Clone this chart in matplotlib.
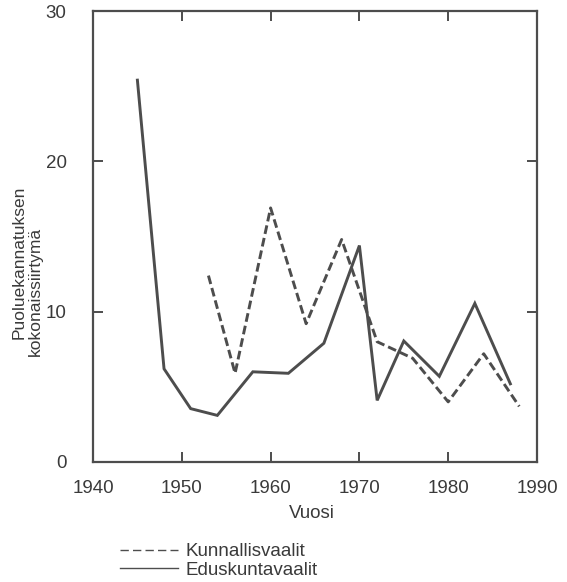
import matplotlib
matplotlib.use("Agg")
import matplotlib.pyplot as plt
from matplotlib.lines import Line2D

# Eduskuntavaalit (parliamentary elections)
edus_vuodet = [1945, 1948, 1951, 1954, 1958, 1962, 1966, 1970, 1972, 1975, 1979, 1983, 1987]
edus_arvot = [25.4, 6.2, 3.55, 3.1, 6.0, 5.9, 7.9, 14.4, 4.1, 8.05, 5.7, 10.55, 5.2]
# Kunnallisvaalit (municipal elections)
kunn_vuodet = [1953, 1956, 1960, 1964, 1968, 1972, 1976, 1980, 1984, 1988]
kunn_arvot = [12.4, 5.9, 16.9, 9.2, 14.8, 8.0, 6.9, 4.0, 7.2, 3.7]

x_ticks = [1940, 1950, 1960, 1970, 1980, 1990]
y_ticks = [0, 10, 20, 30]

plt.rcParams['font.family'] = ['Liberation Sans', 'DejaVu Sans']
vari = '#4d4d4d'
tekstivari = '#3a3a3a'
fs = 13.5

fig = plt.figure(figsize=(5.67, 5.82), dpi=100)
ax = fig.add_axes([93/567, 120/582, 444/567, 451/582])

ax.plot(edus_vuodet, edus_arvot, color=vari, lw=2.1, solid_joinstyle='miter')
ax.plot(kunn_vuodet, kunn_arvot, color=vari, lw=2.1, dashes=(3.0, 1.4))

ax.set_xlim(1940, 1990)
ax.set_ylim(0, 30)
ax.set_xticks(x_ticks)
ax.set_yticks(y_ticks)
ax.tick_params(direction='in', length=7, width=1.4, top=True, right=True,
               labelsize=fs, labelcolor=tekstivari, color=vari)
ax.tick_params(axis='x', pad=13)
ax.tick_params(axis='y', pad=19)
for s in ax.spines.values():
    s.set_linewidth(1.6)
    s.set_color(vari)

ax.set_xlabel('Vuosi', fontsize=fs, color=tekstivari)
ax.xaxis.set_label_coords((312-93)/444, -(505-462)/451)

# y-akselin otsikko kahtena erillisenä rivinä (rivit hieman siirrossa)
fig.text(19/567, 1-262/582, 'Puoluekannatuksen', rotation=90, fontsize=12.5,
         color=tekstivari, ha='center', va='center')
fig.text(35/567, 1-291/582, 'kokonaissiirtymä', rotation=90, fontsize=12.5,
         color=tekstivari, ha='center', va='center')

kasit = [Line2D([], [], color=vari, lw=1.0, dashes=(6, 3)),
         Line2D([], [], color=vari, lw=1.0)]
fig.legend(kasit, ['Kunnallisvaalit', 'Eduskuntavaalit'], loc='upper left',
           bbox_to_anchor=(120/567, 1-543/582), frameon=False, fontsize=fs,
           handlelength=3.1, handletextpad=0.37, labelspacing=0.08, borderpad=0,
           borderaxespad=0, labelcolor=tekstivari)

fig.savefig('out.png', dpi=100)
